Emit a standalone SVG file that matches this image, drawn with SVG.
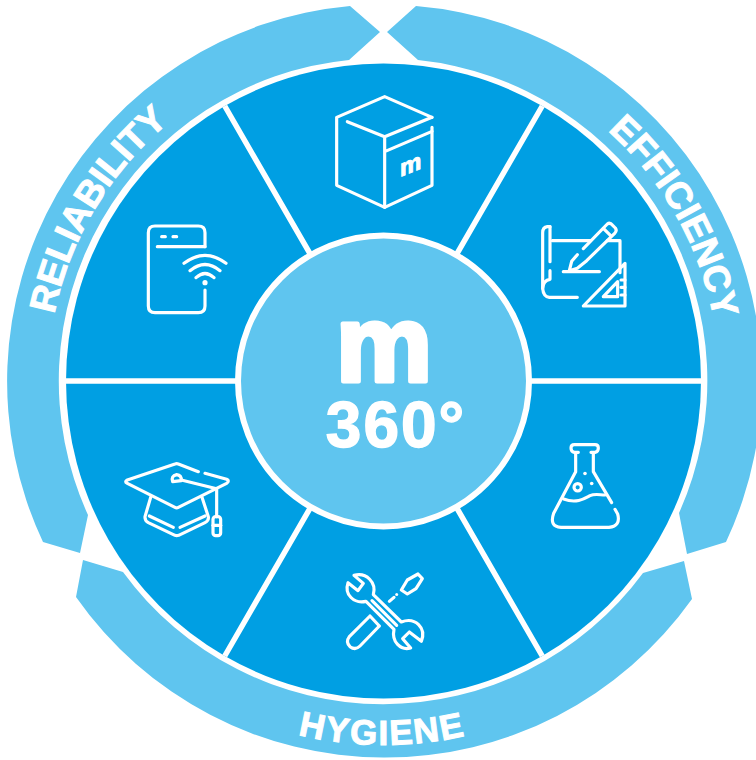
<svg xmlns="http://www.w3.org/2000/svg" width="756" height="760" viewBox="0 0 756 760">
<style>
.band{fill:#5FC5EF}
.sector{fill:#009FE3}
.spoke{stroke:#fff;stroke-width:5.5;fill:none}
.ic{fill:none;stroke:#fff;stroke-width:9.5;stroke-linecap:round;stroke-linejoin:round}
.dot{fill:#fff}
.t{font-family:"Liberation Sans",Arial,sans-serif;font-weight:700;fill:#fff;stroke:#fff}
.lab{font-size:37px;stroke-width:1}
</style>
<defs>
<path id="pR" d="M47.5,381A336,336 0 0 1 215.5,90"/>
<path id="pE" d="M551.5,90A336,336 0 0 1 719.5,381"/>
<path id="pH" d="M259,723A364,364 0 0 0 508,723"/>
</defs>
<rect width="756" height="760" fill="#fff"/>
<g id="band-reliability"><path class="band" d="M350,6L380,32L349,60A322.5,322.5 0 0 0 88,515L80,553L43,542A377,377 0 0 1 350,6Z"/>
<text class="t lab"><textPath href="#pR" startOffset="51.5%" text-anchor="middle">RELIABILITY</textPath></text></g>
<g id="band-efficiency"><path class="band" d="M416,6L387,32L418,60A322.5,322.5 0 0 1 679,513L687,554L726,542A377,377 0 0 0 416,6Z"/>
<text class="t lab"><textPath href="#pE" startOffset="51%" text-anchor="middle">EFFICIENCY</textPath></text></g>
<g id="band-hygiene"><path class="band" d="M83,560L123,572A322.5,322.5 0 0 0 643,573L684,561L692,599A377,377 0 0 1 76,597Z"/>
<text class="t lab" style="font-size:35px" letter-spacing="1.8"><textPath href="#pH" startOffset="49.5%" text-anchor="middle">HYGIENE</textPath></text></g>

<g id="sector-box"><path class="sector" d="M383.5,381L224.75,106A317.5,317.5 0 0 1 542.25,106Z"/>
<g transform="translate(300,0) scale(.33333)" class="ic">
<path d="M396,352L254,290L110,352V556L254,622L396,556V382"/>
<path d="M142,365L254,410L396,352M254,410V622M254,455L396,394"/></g>
<text class="t" transform="translate(400,177) skewY(-22)" font-size="24" stroke-width="1">m</text></g>

<g id="sector-plan"><path class="sector" d="M383.5,381L542.25,106A317.5,317.5 0 0 1 701,381Z"/>
<g transform="translate(520,200) scale(.33333)" class="ic">
<path d="M90,80H82Q68,82 68,98V265Q70,290 88,292H172"/>
<path d="M90,80V185M90,212V238Q70,240 68,265"/>
<path d="M97,122H212M262,122H300V218"/>
<path d="M130,215H238"/>
<path d="M190,318L315,190V318Z"/><path d="M250,290L293,245V290Z"/>
<path d="M303,240H315M303,262H315M303,285H315"/>
<path d="M190,146L262,72Q270,66 278,76L286,84Q292,92 284,100L200,182L172,205L148,212L155,184L172,164"/>
<path d="M250,85L272,107"/></g></g>

<g id="sector-flask"><path class="sector" d="M383.5,381H701A317.5,317.5 0 0 1 542.25,656Z"/>
<g transform="translate(535,430) scale(.33333)" class="ic">
<path d="M130,67H118Q108,65 108,54Q108,44 118,44H180Q190,44 190,54Q190,65 180,67H168"/>
<path d="M122,68V125L56,250Q42,290 78,292H222Q258,288 248,252L240,238"/>
<path d="M175,68V125L230,218"/>
<path d="M86,207C125,222 150,205 165,197C180,190 195,195 210,195"/>
<circle cx="128" cy="172" r="11"/></g>
<circle class="dot" cx="585" cy="473.5" r="1.8"/><circle class="dot" cx="591.7" cy="483.5" r="1.8"/></g>

<g id="sector-tools"><path class="sector" d="M383.5,381L542.25,656A317.5,317.5 0 0 1 224.75,656Z"/>
<g transform="translate(330,560) scale(.33333)" class="ic">
<path d="M72,46L100,70L84,92L54,68C42,104 72,132 108,124L192,208C184,246 212,272 242,264L218,236L238,216L274,244C290,204 256,170 214,186L130,104C140,68 110,36 72,46Z"/>
<path d="M126,122L200,196"/>
<path d="M120,168L58,230Q46,246 60,260Q76,272 90,258L148,198M120,168L148,198"/>
<path d="M178,124L192,112M214,90L232,102L258,86L277,56L264,42L232,60Z"/></g>
<circle class="dot" cx="396.7" cy="594.5" r="1.5"/></g>

<g id="sector-cap"><path class="sector" d="M383.5,381L224.75,656A317.5,317.5 0 0 1 66,381Z"/>
<g transform="translate(110,450) scale(.33333)" class="ic">
<path d="M265,65L205,42Q200,40 195,42L52,90Q42,95 52,100L195,172Q200,175 205,172L350,100Q360,92 350,88L285,70"/>
<path d="M188,95Q182,78 200,74Q215,76 214,92Z"/>
<path d="M214,90L320,116V200"/>
<rect x="309" y="200" width="23" height="57" rx="8"/><path d="M309,226H332"/>
<path d="M122,142L105,200Q104,212 115,218L195,256Q200,258 206,256L285,218Q297,212 295,200L276,142"/>
<path d="M118,198L190,232M210,232L285,198"/></g></g>

<g id="sector-device"><path class="sector" d="M383.5,381H66A317.5,317.5 0 0 1 224.75,106Z"/>
<g transform="translate(130,210) scale(.33333)" class="ic">
<path d="M225,110V68Q225,48 205,48H75Q55,48 55,68V288Q55,308 75,308H205Q225,308 225,288V240"/>
<path d="M82,110H225M95,80H106M129,80H140"/>
<path d="M162,160Q225,112 288,160M180,182Q225,145 270,182M198,203Q225,178 252,203"/></g>
<circle class="dot" cx="205" cy="282.7" r="2.6"/></g>

<g id="connectors">
<path class="spoke" d="M66,381H701M224.75,106L542.25,656M542.25,106L224.75,656"/>
</g>

<g id="center">
<circle cx="383.5" cy="381" r="145.5" fill="#5FC5EF" stroke="#fff" stroke-width="6"/>
<text class="t" x="384" y="380.5" text-anchor="middle" font-size="108" stroke-width="5" stroke-linejoin="round">m</text>
<text class="t" x="396" y="446.5" text-anchor="middle" font-size="64" stroke-width="1.4" letter-spacing="2">360°</text>
</g>
</svg>
